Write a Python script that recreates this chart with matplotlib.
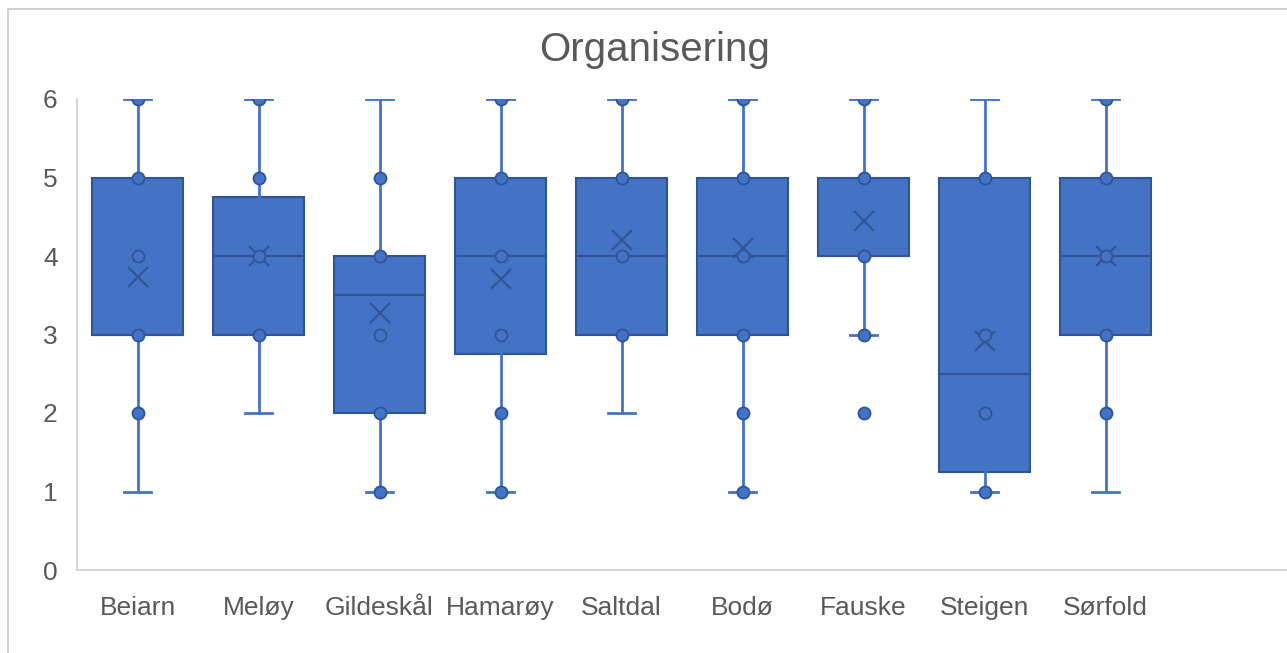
import matplotlib.pyplot as plt
from matplotlib.patches import Rectangle

plt.rcParams['font.family'] = ['Liberation Sans', 'DejaVu Sans']

# values read from the Excel box & whisker chart
kommuner = ['Beiarn', 'Meløy', 'Gildeskål', 'Hamarøy', 'Saltdal',
            'Bodø', 'Fauske', 'Steigen', 'Sørfold']
whisker_lo = [1, 2, 1, 1, 2, 1, 3, 1, 1]
q1 = [3, 3, 2, 2.75, 3, 3, 4, 1.25, 3]
median = [3, 4, 3.5, 4, 4, 4, 4, 2.5, 4]
q3 = [5, 4.75, 4, 5, 5, 5, 5, 5, 5]
whisker_hi = [6, 6, 6, 6, 6, 6, 6, 6, 6]
mean = [3.73, 4.0, 3.28, 3.71, 4.2, 4.1, 4.45, 2.92, 4.0]
# inner points and outliers shown as dots
points = [
    [2, 3, 4, 5, 6],
    [3, 4, 5, 6],
    [1, 2, 3, 4, 5],
    [1, 2, 3, 4, 5, 6],
    [3, 4, 5, 6],
    [1, 2, 3, 4, 5, 6],
    [2, 3, 4, 5, 6],
    [1, 2, 3, 5],
    [2, 3, 4, 5, 6],
]

blue = '#4472C4'
dark = '#2F5597'
grey_text = '#595959'

W, H = 1287, 653
fig = plt.figure(figsize=(W / 100, H / 100), dpi=100)
fig.patches.append(Rectangle((8 / W, -0.1), 1.2, (H - 9) / H + 0.1,
                             transform=fig.transFigure, fill=False,
                             edgecolor='#C8C8C8', lw=1.2))

ax = fig.add_axes([77 / W, (H - 570) / H, (W - 77) / W, (570 - 99) / H])

stats = []
for i in range(len(kommuner)):
    stats.append({'label': kommuner[i], 'whislo': whisker_lo[i], 'q1': q1[i],
                  'med': median[i], 'q3': q3[i], 'whishi': whisker_hi[i],
                  'mean': mean[i], 'fliers': []})

pos = list(range(len(kommuner)))
ax.bxp(stats, positions=pos, widths=0.75, capwidths=0.22, patch_artist=True,
       showmeans=True, showfliers=False,
       boxprops=dict(facecolor=blue, edgecolor=dark, lw=1.5),
       medianprops=dict(color=dark, lw=1.5),
       whiskerprops=dict(color=blue, lw=2),
       capprops=dict(color=blue, lw=2),
       meanprops=dict(marker='x', markersize=14, markeredgecolor=dark,
                      markeredgewidth=1.5))

for i, pts in enumerate(points):
    ax.scatter([i] * len(pts), pts, s=75, color=blue, edgecolor=dark,
               linewidth=1.3, zorder=5)

ax.set_xlim(-0.5, 9.5)
ax.set_ylim(0, 6)
ax.set_yticks(range(0, 7))
ax.set_xticks(pos)
ax.set_xticklabels(kommuner)
ax.tick_params(length=0, labelsize=19, labelcolor=grey_text)
ax.tick_params(axis='x', pad=19)
ax.tick_params(axis='y', pad=14)
for s in ['top', 'right']:
    ax.spines[s].set_visible(False)
for s in ['left', 'bottom']:
    ax.spines[s].set_color('#D9D9D9')
    ax.spines[s].set_linewidth(1.5)

fig.text(655 / W, 1 - 50 / H, 'Organisering', fontsize=29, color=grey_text,
         ha='center', va='center')

fig.savefig('out.png', dpi=100)
